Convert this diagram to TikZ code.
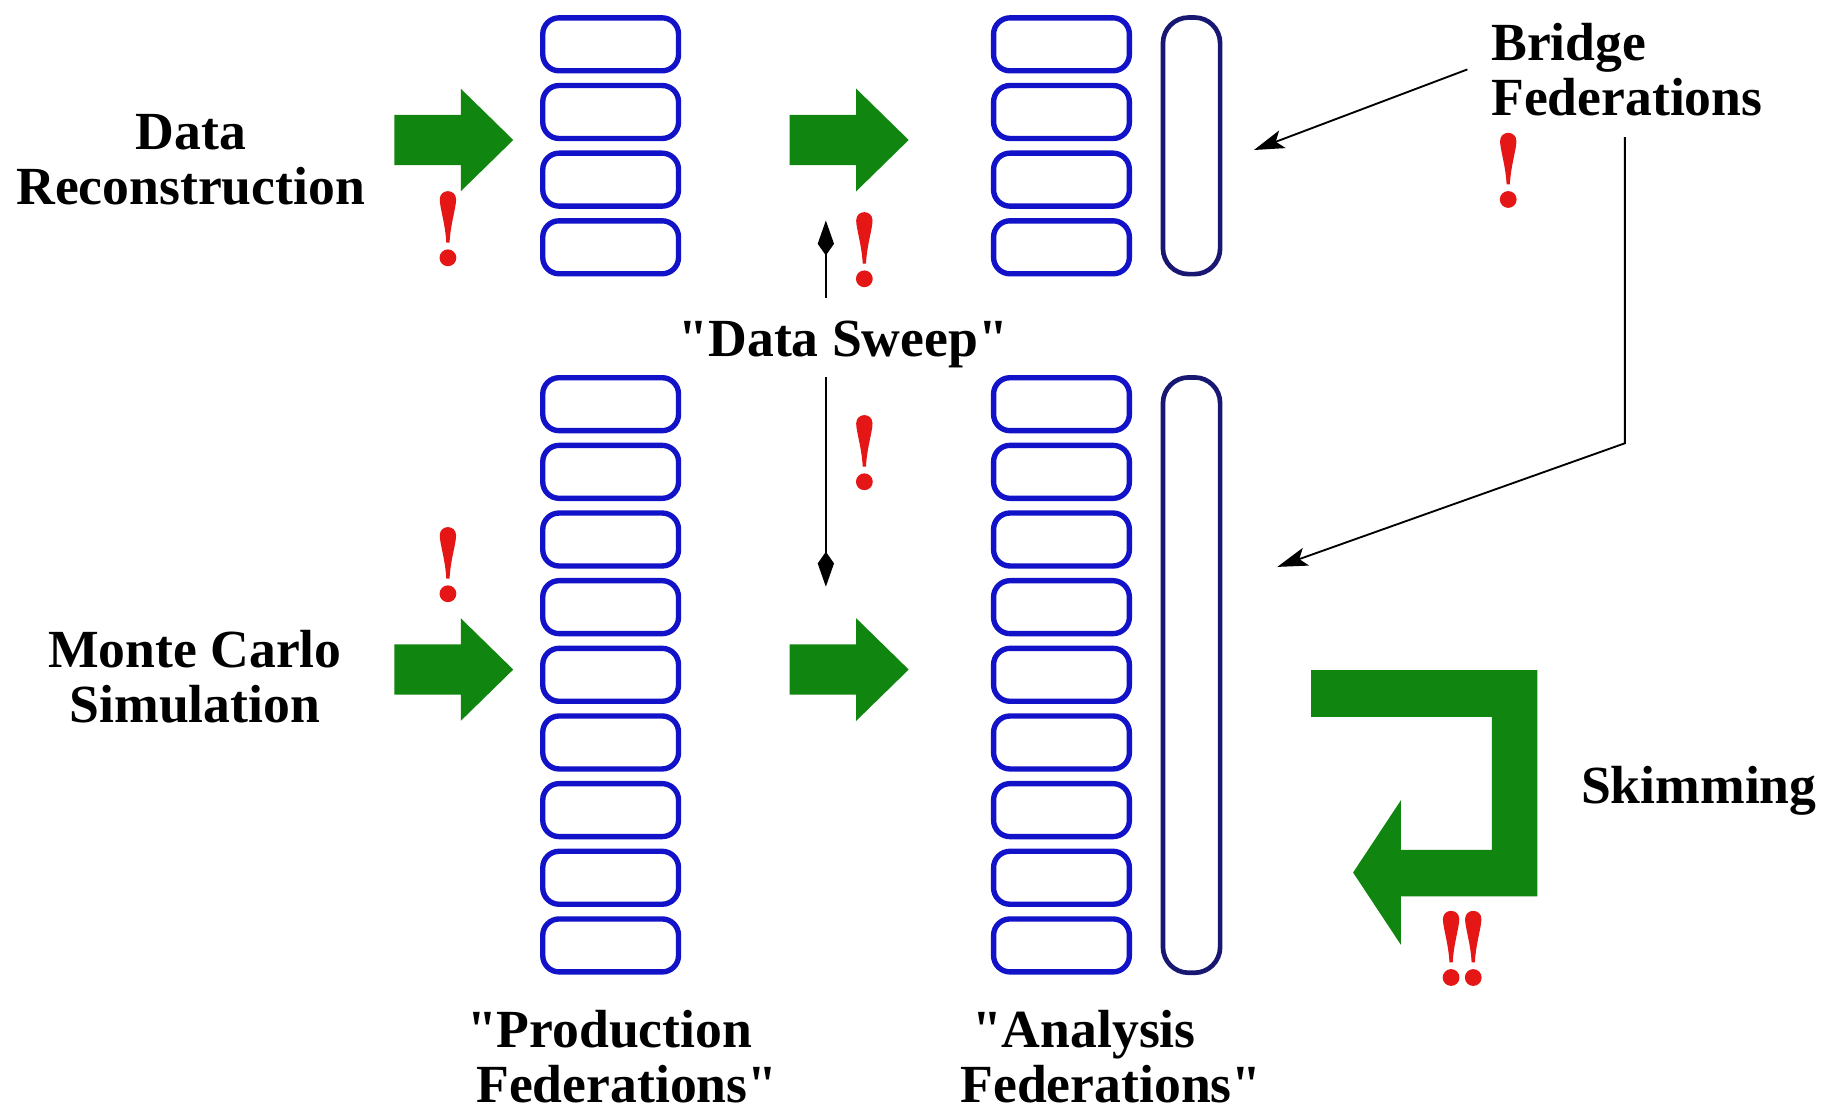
\documentclass[tikz,border=0pt]{standalone}
\usepackage{fontspec}
\setmainfont{Liberation Serif}[Ligatures=TeXOff]
\usetikzlibrary{arrows.meta}
\definecolor{boxblue}{RGB}{18,18,200}
\definecolor{tallblue}{RGB}{24,24,115}
\definecolor{arrowgreen}{RGB}{16,134,16}
\definecolor{bangred}{RGB}{228,22,22}
\begin{document}
\begin{tikzpicture}[x=0.5pt,y=-0.5pt,
  fedbox/.style={draw=boxblue, line width=2.3pt, rounded corners=7pt, minimum width=58.2pt, minimum height=22.7pt, inner sep=0pt},
  tallbox/.style={draw=tallblue, line width=2pt, rounded corners=11pt, minimum width=24.5pt, inner sep=0pt},
  lbl/.style={font=\fontsize{23}{23.5}\selectfont\bfseries, inner sep=0pt},
  conn/.style={line width=0.8pt, black},
  sweeptip/.style={-{Kite[length=15pt,width=7pt,inset=5pt]}},
  bridgetip/.style={-{Stealth[length=13pt,width=8pt,inset=3pt]}},
  garrow/.pic={\fill[arrowgreen] (0,-21.5) -- (57,-21.5) -- (57,-44) -- (102,0) -- (57,44) -- (57,21.5) -- (0,21.5) -- cycle;},
  bang/.pic={\fill[bangred] (-7,7) .. controls (-7,-2.5) and (7,-2.5) .. (7,7) .. controls (7,14) and (2.2,28) .. (1.4,44) -- (-1.4,44) .. controls (-2.2,28) and (-7,14) .. (-7,7) -- cycle;
             \fill[bangred] (0,57) circle[radius=3.6pt];}
]
\fill[white] (0,0) rectangle (1568,955);
\useasboundingbox (0,0) rectangle (1568,955);

% federation boxes
\foreach \i in {0,...,3} {
  \node[fedbox] (pt\i) at (523.5,38+58*\i) {};
  \node[fedbox] (at\i) at (910,38+58*\i) {};
}
\foreach \i in {0,...,8} {
  \node[fedbox] (pb\i) at (523.5,346.5+58*\i) {};
  \node[fedbox] (ab\i) at (910,346.5+58*\i) {};
}
\node[tallbox, minimum height=110pt] (bt) at (1021.5,125) {};
\node[tallbox, minimum height=255.2pt] (bb) at (1021.5,578.75) {};

% green arrows
\pic at (338,120) {garrow};
\pic at (677,120) {garrow};
\pic at (338,574) {garrow};
\pic at (677,574) {garrow};

% skimming arrow
\fill[arrowgreen] (1124,574.5) -- (1318,574.5) -- (1318,768.5) -- (1201,768.5) -- (1201,810) -- (1160,748) -- (1201,686) -- (1201,728.5) -- (1279,728.5) -- (1279,614.5) -- (1124,614.5) -- cycle;

% labels
\node[lbl, align=center] (recon) at (163.5,136.7) {Data\\Reconstruction};
\node[lbl, align=center] (mc) at (167,580) {Monte Carlo\\Simulation};
\node[lbl, anchor=base] (sweep) at (723,306) {"Data Sweep"};
\node[lbl, align=left, anchor=west, inner xsep=10pt, inner ysep=9pt] (bridge) at (1258,59.5) {Bridge\\Federations};
\node[lbl, anchor=base west] (skim) at (1355,689) {Skimming};
\node[lbl, align=left, anchor=west] (prod) at (400,906) {"Production\\\hspace*{4pt}Federations"};
\node[lbl, align=left, anchor=west] (anal) at (823,906) {\hspace*{5pt}"Analysis\\Federations"};

% data sweep arrows
\coordinate (sT) at (708,189);
\coordinate (sB) at (708,503);
\draw[conn, sweeptip, shorten <=10pt] (sweep.north -| sT) -- (sT);
\draw[conn, sweeptip, shorten <=3.5pt] (sweep.south -| sB) -- (sB);

% bridge arrows
\coordinate (bt1) at (1075,128.6);
\coordinate (bk) at (1393,380);
\coordinate (bt2) at (1095,486);
\draw[conn, bridgetip] (bridge.west) -- (bt1);
\draw[conn, bridgetip] (bridge.south -| bk) -- (bk) -- (bt2);

% exclamation marks
\pic at (384,164) {bang};
\pic at (741,182) {bang};
\pic at (1293,114) {bang};
\pic at (741,356) {bang};
\pic at (384,452) {bang};
\pic at (1244,781) {bang};
\pic at (1263,781) {bang};
\end{tikzpicture}
\end{document}
